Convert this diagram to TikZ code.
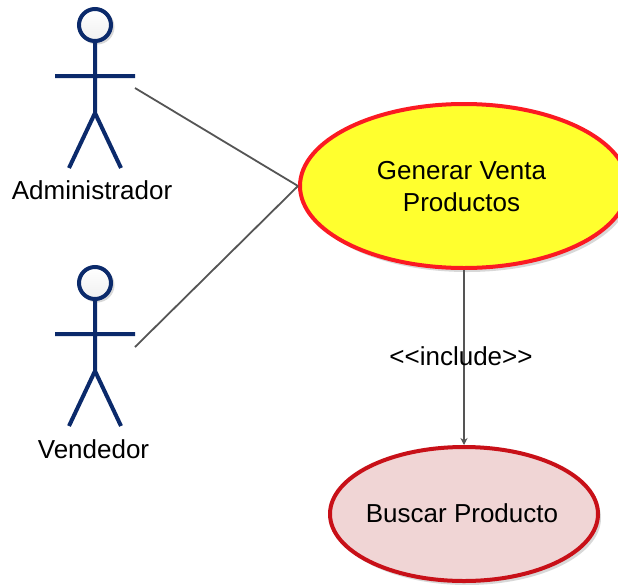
\documentclass[tikz,border=0pt]{standalone}
\usepackage{fontspec}
\setmainfont{Liberation Sans}
\usetikzlibrary{shapes.geometric,arrows.meta}
\definecolor{navy}{HTML}{0B2A6B}
\definecolor{conn}{HTML}{555555}
\definecolor{shade}{HTML}{D8D8D8}
\definecolor{genfill}{HTML}{FFFF2E}
\definecolor{genline}{HTML}{FB1A22}
\definecolor{busfill}{HTML}{F0D5D5}
\definecolor{busline}{HTML}{C81018}
\tikzset{
  x=1pt,y=-1pt,
  usecase/.style={ellipse,draw,line width=4pt,inner sep=0pt},
  shadowell/.style={ellipse,fill=shade,inner sep=0pt,draw=none},
  limb/.style={draw=navy,line width=4pt},
  head/.style={circle,draw=navy,line width=4pt,minimum size=32pt,inner sep=0pt,top color=white,bottom color=gray!12},
  headshadow/.style={circle,fill=shade,minimum size=35pt,inner sep=0pt},
  label/.style={font=\fontsize{26pt}{32pt}\selectfont,text=black,inner sep=0pt,align=center},
  assoc/.style={draw=conn,line width=1.8pt},
  incl/.style={draw=conn,line width=1.8pt,-{Stealth[length=7pt,width=7pt]}}
}
\begin{document}
\begin{tikzpicture}
\useasboundingbox (0,0) rectangle (618,584);
\clip (0,0) rectangle (618,584);
\fill[white] (0,0) rectangle (618,584);
% shadows
\node[shadowell,minimum width=328pt,minimum height=164pt] at (467,190) {};
\node[shadowell,minimum width=268pt,minimum height=134pt] at (467,518) {};
% use cases
\node[usecase,draw=genline,fill=genfill,minimum width=328pt,minimum height=164pt] (gen) at (464,186) {};
\node[usecase,draw=busline,fill=busfill,minimum width=268pt,minimum height=134pt] (bus) at (464,514) {};
\node[label] (gentext) at (461.5,186.5) {Generar Venta\\Productos};
\node[label] (bustext) at (462,513) {Buscar Producto};
% actor 1
\node[headshadow] at (97,27) {};
\coordinate (a1neck) at (95,41);
\coordinate (a1hip) at (95,113);
\coordinate (a1la) at (55,76);
\coordinate (a1ra) at (135,76);
\coordinate (a1ll) at (69,168);
\coordinate (a1rl) at (121,168);
\coordinate (a1port) at (135,88);
\draw[limb] (a1neck) -- (a1hip) (a1la) -- (a1ra) (a1ll) -- (a1hip) -- (a1rl);
\node[head] (a1head) at (95,25) {};
\node[label] (a1label) at (92,190) {Administrador};
% actor 2
\node[headshadow] at (97,285) {};
\coordinate (a2neck) at (95,299);
\coordinate (a2hip) at (95,371);
\coordinate (a2la) at (55,334);
\coordinate (a2ra) at (135,334);
\coordinate (a2ll) at (69,426);
\coordinate (a2rl) at (121,426);
\coordinate (a2port) at (135,347);
\draw[limb] (a2neck) -- (a2hip) (a2la) -- (a2ra) (a2ll) -- (a2hip) -- (a2rl);
\node[head] (a2head) at (95,283) {};
\node[label] (a2label) at (93.5,449) {Vendedor};
% connectors
\draw[assoc] (a1port) -- (gen.west);
\draw[assoc] (a2port) -- (gen.west);
\draw[incl] (gen.south) -- (bus.north);
\node[label] (inc) at (461,356) {<{}<include>{}>};
\end{tikzpicture}
\end{document}
